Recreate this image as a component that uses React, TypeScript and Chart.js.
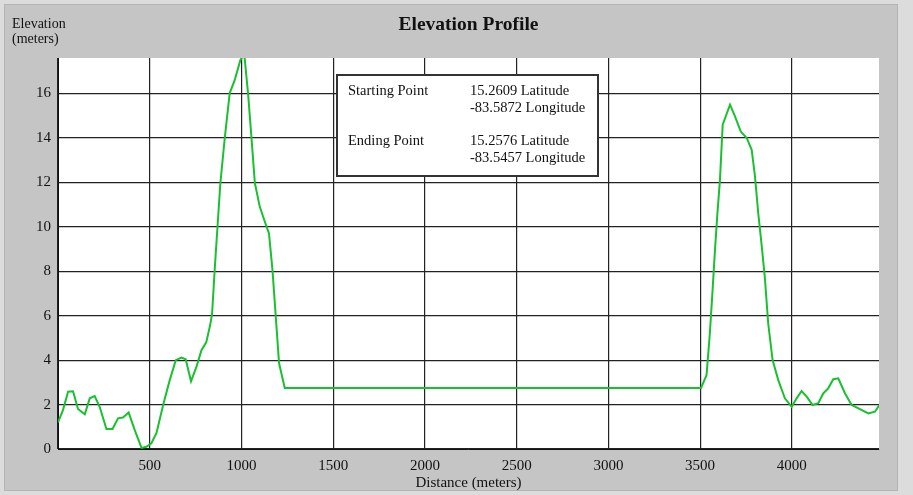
import React, { useEffect, useRef } from 'react';
import { Chart, registerables } from 'chart.js';

Chart.register(...registerables);

// ---- data ----
const distances = [
  0, 27, 55, 82, 109, 146, 173, 200, 227, 264, 297, 327, 354, 385, 418, 455, 482, 509, 537,
  573, 609, 642, 673, 696, 725, 755, 782, 808, 830, 840, 854, 867, 885, 909, 936, 963, 994,
  1015, 1036, 1054, 1073, 1100, 1127, 1150, 1169, 1187, 1205, 1236, 3505, 3535, 3553, 3568,
  3581, 3593, 3608, 3623, 3663, 3690, 3721, 3754, 3781, 3799, 3817, 3835, 3853, 3871, 3895,
  3926, 3962, 3999, 4026, 4053, 4081, 4113, 4144, 4171, 4198, 4226, 4253, 4290, 4326, 4371,
  4417, 4453, 4477,
];
const elevations = [
  1.2, 1.75, 2.58, 2.6, 1.8, 1.56, 2.28, 2.38, 1.9, 0.9, 0.9, 1.38, 1.42, 1.64, 0.86, 0.05,
  0.1, 0.26, 0.72, 1.98, 3.1, 4.0, 4.12, 4.04, 3.05, 3.71, 4.45, 4.8, 5.6, 6.1, 8.06, 9.7,
  11.97, 14.0, 16.02, 16.6, 17.5, 17.8, 16.0, 14.07, 11.97, 10.9, 10.24, 9.7, 8.06, 5.96,
  3.86, 2.75, 2.75, 3.33, 5.2, 7.16, 8.96, 10.46, 12.1, 14.6, 15.5, 14.97, 14.3, 14.0, 13.47,
  12.27, 10.6, 9.2, 7.7, 5.66, 4.0, 3.1, 2.28, 1.9, 2.28, 2.61, 2.36, 1.98, 2.06, 2.5, 2.73,
  3.14, 3.18, 2.5, 1.98, 1.79, 1.6, 1.68, 1.98,
];

const xMax = 4475;
const yMax = 17.6;
const xTickValues = [0, 500, 1000, 1500, 2000, 2500, 3000, 3500, 4000];
const yTickValues = [0, 2, 4, 6, 8, 10, 12, 14, 16];

const chartTitle = 'Elevation Profile';
const yTitleLines = ['Elevation', '(meters)'];
const xTitle = 'Distance (meters)';
const infoRows = [
  { label: 'Starting Point', lines: ['15.2609 Latitude', '-83.5872 Longitude'] },
  { label: 'Ending Point', lines: ['15.2576 Latitude', '-83.5457 Longitude'] },
];

const FONT = '"Liberation Serif", "Times New Roman", serif';

const framePlugin = {
  id: 'frame',
  beforeDraw(chart: any) {
    const { ctx, width, height, chartArea } = chart;
    ctx.save();
    ctx.fillStyle = '#dcdcdc';
    ctx.fillRect(0, 0, width, height);
    ctx.fillStyle = '#c5c5c5';
    ctx.fillRect(4, 4, 894, height - 8);
    ctx.strokeStyle = '#b4b4b4';
    ctx.lineWidth = 1;
    ctx.strokeRect(4.5, 4.5, 893, height - 9);
    ctx.fillStyle = '#ffffff';
    ctx.fillRect(chartArea.left, chartArea.top, chartArea.right - chartArea.left, chartArea.bottom - chartArea.top);
    ctx.restore();
  },
  afterDraw(chart: any) {
    const { ctx, chartArea } = chart;
    ctx.save();
    ctx.fillStyle = '#111';
    ctx.textBaseline = 'alphabetic';
    ctx.font = `bold 19.5px ${FONT}`;
    ctx.textAlign = 'center';
    ctx.fillText(chartTitle, (chartArea.left + chartArea.right) / 2, 30);
    ctx.font = `14px ${FONT}`;
    ctx.textAlign = 'left';
    ctx.fillText(yTitleLines[0], 12, 28);
    ctx.fillText(yTitleLines[1], 12, 43);
    const bx = 337, by = 75, bw = 261, bh = 101;
    ctx.fillStyle = '#ffffff';
    ctx.fillRect(bx, by, bw, bh);
    ctx.strokeStyle = '#333';
    ctx.lineWidth = 2;
    ctx.strokeRect(bx, by, bw, bh);
    ctx.fillStyle = '#111';
    ctx.font = `14.5px ${FONT}`;
    const baseY = [95, 145];
    infoRows.forEach((row, i) => {
      ctx.fillText(row.label, 348, baseY[i]);
      row.lines.forEach((ln, j) => ctx.fillText(ln, 470, baseY[i] + j * 17));
    });
    ctx.restore();
  },
};

export default function App() {
  const ref = useRef<HTMLCanvasElement | null>(null);
  useEffect(() => {
    document.body.style.margin = '0';
    if (!ref.current) return;
    const chart = new Chart(ref.current, {
      type: 'line',
      data: {
        datasets: [
          {
            data: distances.map((d, i) => ({ x: d, y: elevations[i] })),
            borderColor: '#19c030',
            borderWidth: 2,
            pointRadius: 0,
            tension: 0,
            fill: false,
          },
        ],
      },
      plugins: [framePlugin],
      options: {
        animation: false,
        responsive: false,
        devicePixelRatio: 1,
        layout: { padding: { top: 58, right: 34, left: 0, bottom: 0 } },
        plugins: { legend: { display: false }, title: { display: false }, tooltip: { enabled: false } },
        scales: {
          x: {
            type: 'linear',
            min: 0,
            max: xMax,
            afterFit: (s: any) => { s.height = 46; },
            afterBuildTicks: (s: any) => { s.ticks = xTickValues.map((v) => ({ value: v })); },
            ticks: {
              padding: 8,
              color: '#111',
              font: { family: FONT, size: 15 },
              maxRotation: 0,
              autoSkip: false,
              callback: (v: any) => (Number(v) === 0 ? '' : String(v)),
            },
            grid: { color: '#222', lineWidth: 1.2, drawTicks: false },
            border: { display: true, color: '#111', width: 1 },
            title: { display: true, text: xTitle, color: '#111', font: { family: FONT, size: 15 }, padding: { top: 0, bottom: 3 } },
          },
          y: {
            type: 'linear',
            min: 0,
            max: yMax,
            afterFit: (s: any) => { s.width = 58; },
            afterBuildTicks: (s: any) => { s.ticks = yTickValues.map((v) => ({ value: v })); },
            ticks: {
              padding: 7,
              color: '#111',
              font: { family: FONT, size: 15 },
              autoSkip: false,
              callback: (v: any) => String(v),
            },
            grid: { color: '#222', lineWidth: 1.2, drawTicks: false },
            border: { display: true, color: '#111', width: 1 },
          },
        },
      },
    });
    return () => chart.destroy();
  }, []);
  return (
    <div style={{ width: 913, height: 495 }}>
      <canvas ref={ref} width={913} height={495} style={{ display: 'block' }} />
    </div>
  );
}
